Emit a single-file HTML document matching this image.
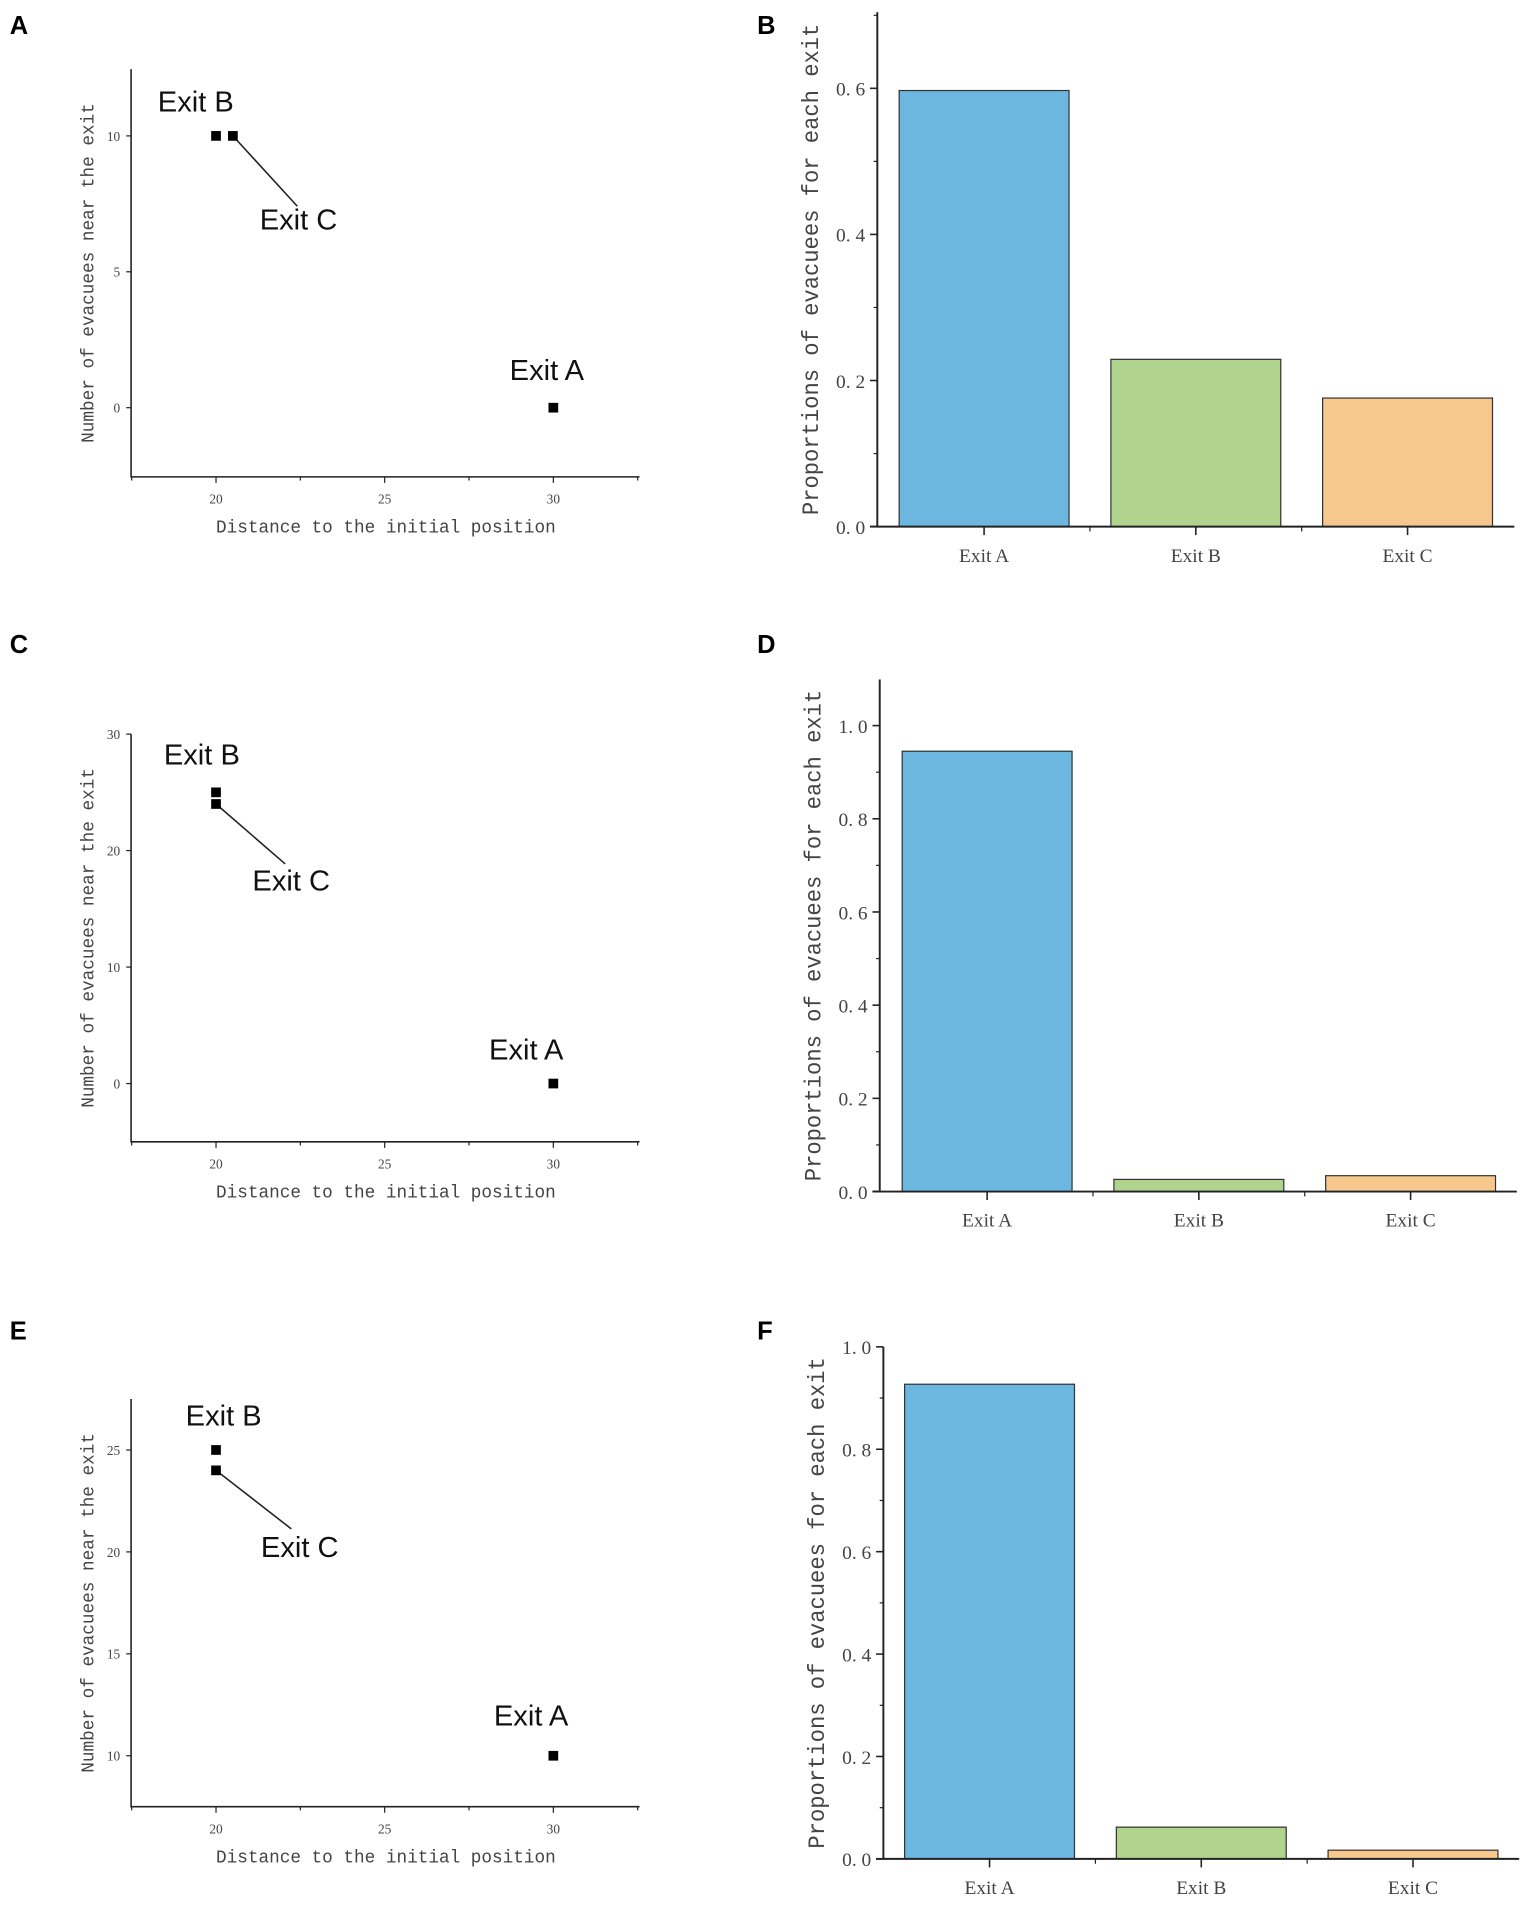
<!DOCTYPE html>
<html><head><meta charset="utf-8"><style>
html,body{margin:0;padding:0;background:#fff}
svg{display:block}
.tick{font-family:"Liberation Serif",serif;fill:#444}
.ttl{font-family:"Liberation Mono",monospace;fill:#444}
.lbl{font-family:"Liberation Sans",sans-serif;fill:#111}
.let{font-family:"Liberation Sans",sans-serif;font-weight:bold;fill:#000}
</style></head><body>
<svg id="fig" width="1535" height="1905" viewBox="0 0 1265 1570" xmlns="http://www.w3.org/2000/svg"></svg>
<script>
// Scatter data
const scatterXs_A = [20, 20.5, 30];
const scatterYs_A = [10, 10, 0];
const scatterXs_C = [20, 20, 30];
const scatterYs_C = [25, 24, 0];
const scatterXs_E = [20, 20, 30];
const scatterYs_E = [25, 24, 10];
const xTicks = [20, 25, 30];
const yTicks_A = [0, 5, 10];
const yTicks_C = [0, 10, 20, 30];
const yTicks_E = [10, 15, 20, 25];
// Bar data
const categories = ["Exit A", "Exit B", "Exit C"];
const barValues_B = [0.597, 0.229, 0.176];
const barValues_D = [0.945, 0.026, 0.034];
const barValues_F = [0.927, 0.062, 0.017];
const yTicks_B = [0.0, 0.2, 0.4, 0.6];
const yTicks_D = [0.0, 0.2, 0.4, 0.6, 0.8, 1.0];
const yTicks_F = [0.0, 0.2, 0.4, 0.6, 0.8, 1.0];
const barColors = ["#6bb7e0", "#b0d48e", "#f6c88e"];

const NS = "http://www.w3.org/2000/svg";
const svg = document.getElementById("fig");
function mk(tag, attrs, parent, text) {
  const e = document.createElementNS(NS, tag);
  for (const k in attrs) e.setAttribute(k, attrs[k]);
  if (text !== undefined) e.textContent = text;
  (parent || svg).appendChild(e);
  return e;
}

function scatter(id, cfg, xs, ys, yt, labels, link) {
  const g = mk("g", {});
  
  
  const sx = v => cfg.x0 + (v - 20) * cfg.kx;
  const sy = v => cfg.yRef - (v - cfg.vRef) * cfg.ky;
  const ax = mk("path", {d:`M${cfg.left} ${cfg.top}V${cfg.bottom}H527`, stroke:"#222", fill:"none", "stroke-width":1.3}, g);
  
  
  for (let v = 17.5; v <= 32.5; v += 2.5) mk("line", {x1:sx(v), x2:sx(v), y1:cfg.bottom, y2:cfg.bottom+(v%5===0?5:3), stroke:"#222"}, g);
  xTicks.forEach(v => {
    const t = mk("text", {x:sx(v), y:cfg.bottom+22, "text-anchor":"middle", "font-size":11, class:"tick"}, g, String(v));
    
    
  });
  yt.forEach(v => {
    mk("line", {x1:cfg.left-4, x2:cfg.left, y1:sy(v), y2:sy(v), stroke:"#222"}, g);
    const t = mk("text", {x:cfg.left-9, y:sy(v)+4, "text-anchor":"end", "font-size":11, class:"tick"}, g, String(v));
    
    
  });
  const xt = mk("text", {x:318, y:cfg.bottom+46, "text-anchor":"middle", "font-size":15.5, textLength:280, lengthAdjust:"spacingAndGlyphs", class:"ttl"}, g, "Distance to the initial position");
  
  
  const cy = (cfg.top + cfg.bottom) / 2;
  const yl = mk("text", {x:0, y:0, transform:`translate(77 ${cy}) rotate(-90)`, "text-anchor":"middle", "font-size":15.5, textLength:280, lengthAdjust:"spacingAndGlyphs", class:"ttl"}, g, "Number of evacuees near the exit");
  
  
  const lk = mk("line", {x1:sx(xs[link.i]), y1:sy(ys[link.i]), x2:link.x, y2:link.y, stroke:"#222", "stroke-width":1.3}, g);
  
  
  xs.forEach((v, i) => {
    const p = mk("rect", {x:sx(v)-4, y:sy(ys[i])-4, width:8, height:8, fill:"#000"}, g);
    
    
  });
  labels.forEach(l => {
    const t = mk("text", {x:l[1], y:l[2]+8, "font-size":24, class:"lbl"}, g, l[0]);
    
    
  });
}

function bars(id, cfg, vals, yt) {
  const g = mk("g", {});
  
  
  const sy = v => cfg.bottom - v * cfg.k;
  const step = 174.5, bw = 140;
  const cx = i => cfg.c0 + i * step;
  vals.forEach((v, i) => {
    const b = mk("rect", {x:cx(i)-bw/2, y:sy(v), width:bw, height:cfg.bottom - sy(v), fill:barColors[i], stroke:"#333", "stroke-width":1}, g);
    
    
  });
  const ax = mk("path", {d:`M${cfg.left} ${cfg.top}V${cfg.bottom}H${cfg.right}`, stroke:"#222", fill:"none", "stroke-width":1.6}, g);
  
  
  mk("line", {x1:cfg.left-6, x2:cfg.left, y1:cfg.bottom, y2:cfg.bottom, stroke:"#222", "stroke-width":1.6}, g);
  const maxv = (cfg.bottom - cfg.top) / cfg.k;
  for (let v = 0.1; v < maxv; v += 0.2) mk("line", {x1:cfg.left-3, x2:cfg.left, y1:sy(v), y2:sy(v), stroke:"#222"}, g);
  yt.forEach(v => {
    mk("line", {x1:cfg.left-6, x2:cfg.left, y1:sy(v), y2:sy(v), stroke:"#222", "stroke-width":1.3}, g);
    const t = mk("text", {x:cfg.left-10, y:sy(v)+6, "text-anchor":"end", "font-size":16, class:"tick"}, g, v.toFixed(1).replace('.', '. '));
    
    
  });
  categories.forEach((c, i) => {
    mk("line", {x1:cx(i), x2:cx(i), y1:cfg.bottom, y2:cfg.bottom+7, stroke:"#222", "stroke-width":1.3}, g);
    if (i < 2) mk("line", {x1:cx(i)+step/2, x2:cx(i)+step/2, y1:cfg.bottom, y2:cfg.bottom+4, stroke:"#222"}, g);
    const t = mk("text", {x:cx(i), y:cfg.bottom+29, "text-anchor":"middle", "font-size":16, class:"tick"}, g, c);
    
    
  });
  const yl = mk("text", {x:0, y:0, transform:`translate(${cfg.tx} ${cfg.ty}) rotate(-90)`, "text-anchor":"middle", "font-size":19, textLength:405, lengthAdjust:"spacingAndGlyphs", class:"ttl"}, g, "Proportions of evacuees for each exit");
  
  
}

scatter("a", {left:108, top:57, bottom:393, x0:178, kx:27.8, yRef:336, vRef:0, ky:22.4}, scatterXs_A, scatterYs_A, yTicks_A,
  [["Exit B",130,84],["Exit C",214,181],["Exit A",420,305]], {i:1, x:245, y:170});
scatter("c", {left:108, top:605, bottom:941, x0:178, kx:27.8, yRef:893, vRef:0, ky:9.6}, scatterXs_C, scatterYs_C, yTicks_C,
  [["Exit B",135,622],["Exit C",208,726],["Exit A",403,865]], {i:1, x:235, y:712});
scatter("e", {left:108, top:1153, bottom:1489, x0:178, kx:27.8, yRef:1447, vRef:10, ky:16.8}, scatterXs_E, scatterYs_E, yTicks_E,
  [["Exit B",153,1167],["Exit C",215,1275],["Exit A",407,1414]], {i:1, x:240, y:1260});

bars("b", {left:723, top:10, bottom:434, right:1248, k:602, c0:811, tx:674, ty:222}, barValues_B, yTicks_B);
bars("d", {left:725, top:560, bottom:982, right:1250, k:384, c0:813.5, tx:676, ty:771}, barValues_D, yTicks_D);
bars("f", {left:728, top:1110, bottom:1532, right:1252, k:422, c0:815.5, tx:679, ty:1321}, barValues_F, yTicks_F);

[["A",8,28],["B",624,28],["C",8,538],["D",624,538],["E",8,1104],["F",624,1104]].forEach(p => {
  const t = mk("text", {x:p[1], y:p[2], "font-size":21, class:"let"}, svg, p[0]);
  
  
});
</script>
</body></html>
